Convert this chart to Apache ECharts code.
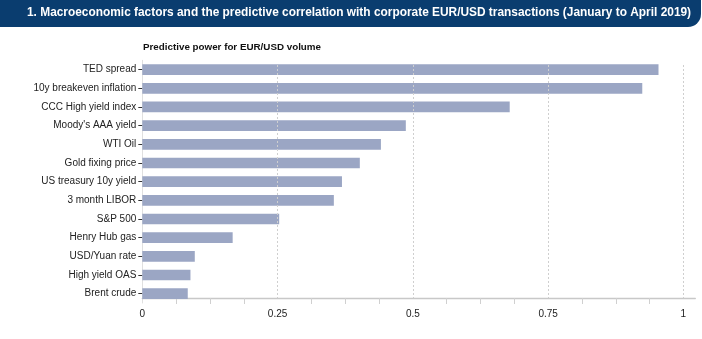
<!DOCTYPE html>
<html><head><meta charset="utf-8">
<script src="https://cdn.jsdelivr.net/npm/echarts@6/dist/echarts.min.js"></script>
<style>html,body{margin:0;padding:0;background:#fff}#c{width:702px;height:339px}</style>
</head><body><div id="c"></div>
<script>
const categories = ["TED spread","10y breakeven inflation","CCC High yield index","Moody's AAA yield","WTI Oil","Gold fixing price","US treasury 10y yield","3 month LIBOR","S&P 500","Henry Hub gas","USD/Yuan rate","High yield OAS","Brent crude"];
const values = [0.954,0.924,0.679,0.487,0.441,0.402,0.369,0.354,0.253,0.167,0.097,0.089,0.084];
const gridValues = [0.25,0.5,0.75,1];
const titleText = "1. Macroeconomic factors and the predictive correlation with corporate EUR/USD transactions (January to April 2019)";
const subtitleText = "Predictive power for EUR/USD volume";

const chart = echarts.init(document.getElementById('c'), null, {renderer:'canvas'});
const font = "'Liberation Sans', Arial, sans-serif";
chart.setOption({
  animation:false,
  textStyle:{fontFamily:font},
  graphic:[
    {type:'rect', shape:{x:0,y:0,width:701,height:27,r:[0,0,13,0]}, style:{fill:'#0a3d6f'}, z:0},
    {type:'text', left:27, top:6.5, style:{text:titleText, fill:'#fff', font:"bold 11.9px 'Liberation Sans', Arial, sans-serif"}},
    {type:'text', left:143, top:42, style:{text:subtitleText, fill:'#111', font:"bold 9.8px 'Liberation Sans', Arial, sans-serif"}}
  ],
  grid:{left:142.3, right:6.7, top:60.3, height:242.7, containLabel:false},
  xAxis:{
    type:'value', min:0, max:1.022, interval:0.25, offset:-5,
    axisLine:{show:true, lineStyle:{color:'#c8c8c8', width:1.3}},
    axisTick:{show:false},
    minorTick:{show:true, splitNumber:4, length:6, lineStyle:{color:'#d0d0d0'}},
    splitLine:{show:false},
    axisLabel:{color:'#222', fontSize:10, margin:11, showMaxLabel:false,
      formatter:v=> (Math.abs(v*4-Math.round(v*4))<1e-6 ? String(+v.toFixed(2)) : '')}
  },
  yAxis:{
    type:'category', data:categories, inverse:true,
    axisLine:{show:true, lineStyle:{color:'#e0e0e0'}},
    axisTick:{show:true, alignWithLabel:true, length:4, lineStyle:{color:'#333'}},
    axisLabel:{color:'#222', fontSize:10, margin:6}
  },
  series:[{
    type:'bar', data:values, barWidth:10.7,
    itemStyle:{color:'#9ba6c4'},
    markLine:{silent:true, symbol:'none', label:{show:false},
      lineStyle:{color:'#cfcfcf', type:[2,2], width:1},
      data: gridValues.map(v=>[{xAxis:v, y:65},{xAxis:v, y:298}])},
    z:3
  }]
});
</script></body></html>
